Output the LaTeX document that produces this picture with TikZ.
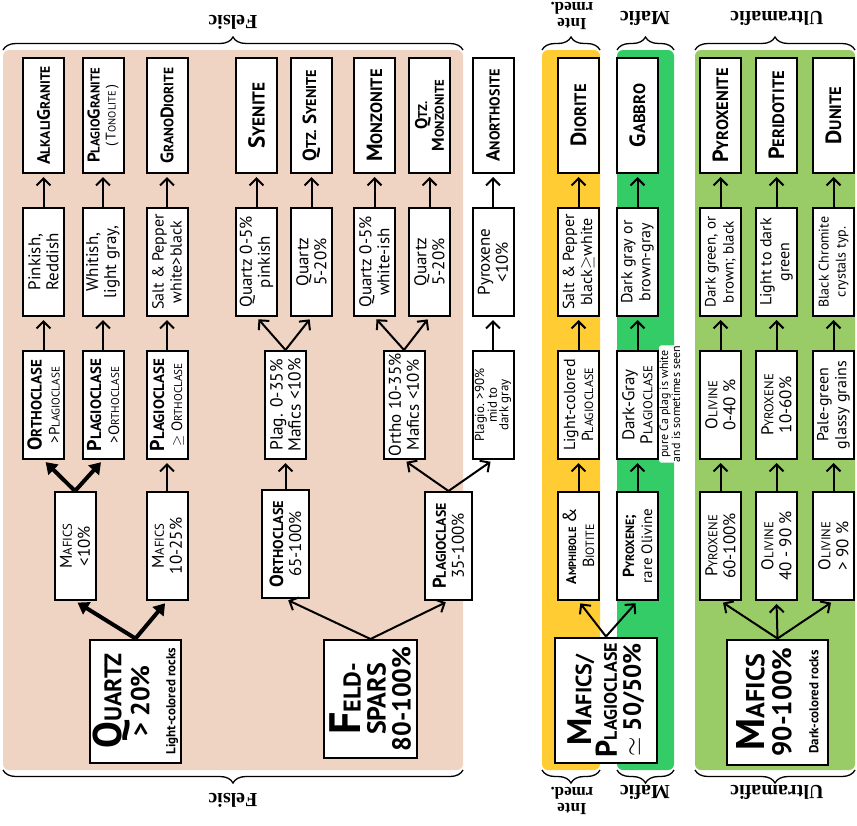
\documentclass[tikz,border=0pt]{standalone}
\usepackage{fontspec}
\usepackage{graphicx}
\setmainfont{PT Sans}
\newfontfamily\bracefont{Liberation Serif}
\usetikzlibrary{arrows.meta,decorations.pathreplacing}

\definecolor{felsicbg}{HTML}{EFD4C4}
\definecolor{intbg}{HTML}{FFCC33}
\definecolor{maficbg}{HTML}{33CC66}
\definecolor{ultrabg}{HTML}{99CC66}

% fake small caps: big initial, rest in smaller capitals
\newcommand\sce[2]{#1\scalebox{.75}{\MakeUppercase{#2}}}
\newcommand\fs[2]{\fontsize{#1}{#2}\selectfont}

\begin{document}
\begin{tikzpicture}[
  x=1pt, y=-1pt,
  box/.style={draw, line width=2pt, fill=white, rotate=90, align=center, inner sep=1pt},
  namebox/.style={box, minimum width=115pt, minimum height=41pt},
  infobox/.style={box, minimum width=108pt, minimum height=41pt, font=\fs{17}{18}},
  bigbox/.style={box, minimum width=123pt, minimum height=92pt},
  up/.style={-{Straight Barb[length=7pt,width=14pt]}, line width=2pt, shorten >=3pt},
  fat/.style={-{Triangle[length=11pt,width=14pt]}, line width=4pt, shorten >=3pt},
  bracelab/.style={rotate=180, font=\bracefont\bfseries\fs{20}{16}, align=center},
  curly/.style={decorate, decoration={brace, amplitude=13pt}, line width=1.3pt}
]
\useasboundingbox (0,0) rectangle (857,825);

% coloured bands
\fill[felsicbg, rounded corners=6pt] (3,50) rectangle (463,770);
\fill[intbg, rounded corners=6pt] (542,50) rectangle (600,770);
\fill[maficbg, rounded corners=6pt] (617,50) rectangle (674,770);
\fill[ultrabg, rounded corners=6pt] (695,50) rectangle (855,770);

% braces and their labels
\draw[curly] (3,50) -- (463,50);
\draw[curly] (542,50) -- (600,50);
\draw[curly] (617,50) -- (674,50);
\draw[curly] (695,50) -- (855,50);
\draw[curly] (463,770) -- (3,770);
\draw[curly] (600,770) -- (542,770);
\draw[curly] (674,770) -- (617,770);
\draw[curly] (855,770) -- (695,770);
\node[bracelab] (felsicT) at (233,22) {Felsic};
\node[bracelab, font=\bracefont\bfseries\fs{17}{16}] (intT) at (572,16) {Inte\\rmed.};
\node[bracelab] (maficT) at (645,18) {Mafic};
\node[bracelab] (ultraT) at (777,18) {Ultramafic};
\node[bracelab] (felsicB) at (233,800) {Felsic};
\node[bracelab, font=\bracefont\bfseries\fs{17}{16}] (intB) at (572,801) {Inte\\rmed.};
\node[bracelab] (maficB) at (645,792) {Mafic};
\node[bracelab] (ultraB) at (777,792) {Ultramafic};

% rock names
\node[namebox, font=\bfseries\fs{18}{18}] (alkali) at (43.5,115.5) {\sce{A}{lkali}\sce{G}{ranite}};
\node[namebox, font=\bfseries\fs{17}{16}] (plagiogr) at (103,115.5) {\sce{P}{lagio}\sce{G}{ranite}\\{\mdseries\fs{14}{13}(\,\sce{T}{onolite}\,)}};
\node[namebox, font=\bfseries\fs{18}{18}] (grano) at (167,115.5) {\sce{G}{rano}\sce{D}{iorite}};
\node[namebox, font=\bfseries\fs{23}{23}] (syen) at (256.5,115.5) {\sce{S}{yenite}};
\node[namebox, font=\bfseries\fs{19}{19}] (qsyen) at (311.5,115.5) {\sce{Q}{tz.} \sce{S}{yenite}};
\node[namebox, font=\bfseries\fs{22}{22}] (monz) at (374.5,115.5) {\sce{M}{onzonite}};
\node[namebox, font=\bfseries\fs{17}{15}] (qmonz) at (429.5,115.5) {\sce{Q}{tz.}\\\sce{M}{onzonite}};
\node[namebox, font=\bfseries\fs{19}{19}] (anor) at (493,115.5) {\sce{A}{northosite}};
\node[namebox, font=\bfseries\fs{22}{22}] (dior) at (578.5,115.5) {\sce{D}{iorite}};
\node[namebox, font=\bfseries\fs{22}{22}] (gabb) at (637.5,115.5) {\sce{G}{abbro}};
\node[namebox, font=\bfseries\fs{22}{22}] (pyrxt) at (720.5,115.5) {\sce{P}{yroxenite}};
\node[namebox, font=\bfseries\fs{22}{22}] (perid) at (776.5,115.5) {\sce{P}{eridotite}};
\node[namebox, font=\bfseries\fs{22}{22}] (dun) at (833.5,115.5) {\sce{D}{unite}};

% colour and texture
\node[infobox] (pink) at (43.5,262) {Pinkish,\\Reddish};
\node[infobox] (whitish) at (103,262) {Whitish,\\light gray,};
\node[infobox, font=\fs{16}{18}] (saltw) at (167,262) {Salt \& Pepper\\white>black};
\node[infobox] (qzpink) at (256.5,262) {Quartz 0-5\%\\pinkish};
\node[infobox] (qzsyen) at (311.5,262) {Quartz\\5-20\%};
\node[infobox] (qzwhite) at (374.5,262) {Quartz 0-5\%\\white-ish};
\node[infobox] (qzmonz) at (429.5,262) {Quartz\\5-20\%};
\node[infobox] (pyx10) at (493,262) {Pyroxene\\<10\%};
\node[infobox, font=\fs{16}{18}] (saltb) at (578.5,262) {Salt \& Pepper\\black$\geq$white};
\node[infobox, font=\fs{16}{18}] (darkgray) at (637.5,262) {Dark gray or\\brown-gray};
\node[infobox, font=\fs{15}{18}] (darkgreen) at (720.5,262) {Dark green, or\\brown; black};
\node[infobox, font=\fs{16}{18}] (lightgreen) at (776.5,262) {Light to dark\\green};
\node[infobox, font=\fs{14}{17}] (chromite) at (833.5,262) {Black Chromite\\crystals typ.};

% feldspar ratio
\node[infobox] (orthoP) at (43.5,405) {{\bfseries\fs{20}{18}\sce{O}{rthoclase}}\\{\fs{15}{15}>\sce{P}{lagioclase}}};
\node[infobox] (plagO) at (103,405) {{\bfseries\fs{20}{18}\sce{P}{lagioclase}}\\{\fs{15}{15}>\sce{O}{rthoclase}}};
\node[infobox] (plagGeO) at (167,405) {{\bfseries\fs{20}{18}\sce{P}{lagioclase}}\\{\fs{15}{15}$\geq$ \sce{O}{rthoclase}}};
\node[infobox, font=\fs{17.5}{18}] (plag035) at (285.5,405) {Plag. 0-35\%\\Mafics <10\%};
\node[infobox, font=\fs{17}{18}] (ortho1035) at (404,405) {Ortho 10-35\%\\Mafics <10\%};
\node[infobox, font=\fs{13}{11.5}] (plagio90) at (493,405) {Plagio. >90\%\\mid to\\dark gray};
\node[infobox, font=\fs{16}{18}] (lightplag) at (578.5,405) {Light-colored\\\sce{P}{lagioclase}};
\node[infobox, font=\fs{17}{18}] (darkplag) at (637.5,405) {Dark-Gray\\\sce{P}{lagioclase}};
\node[infobox, font=\fs{17}{18}] (oliv040) at (720.5,405) {\sce{O}{livine}\\0-40 \%};
\node[infobox, font=\fs{17}{18}] (pyx1060) at (776.5,405) {\sce{P}{yroxene}\\10-60\%};
\node[infobox, font=\fs{16}{18}] (palegreen) at (833.5,405) {Pale-green\\glassy grains};
\node[rotate=90, fill=white, rounded corners=2pt, inner sep=0.5pt, align=center, font=\fs{12}{10.5}] (caplag) at (670,404) {pure Ca plag is white\\and is sometimes seen};

% mafic content
\node[infobox, font=\fs{17}{18}] (maf10) at (75,546) {\sce{M}{afics}\\<10\%};
\node[infobox, font=\fs{17}{18}] (maf1025) at (167,546) {\sce{M}{afics}\\10-25\%};
\node[infobox, font=\fs{17}{18}, minimum height=47pt] (ortho65) at (285.5,544) {{\bfseries\fs{19}{18}\sce{O}{rthoclase}}\\65-100\%};
\node[infobox, font=\fs{17}{18}, minimum height=47pt] (plag35) at (448.5,546) {{\bfseries\fs{18.5}{18}\sce{P}{lagioclase}}\\35-100\%};
\node[infobox, font=\fs{16}{18}] (amph) at (578.5,546) {{\bfseries\fs{14}{14}\sce{A}{mphibole}} {\fs{19}{16}\&}\\\sce{B}{iotite}};
\node[infobox, font=\fs{15}{18}] (pyxol) at (637.5,546) {{\bfseries\fs{16}{14}\sce{P}{yroxene};}\\rare Olivine};
\node[infobox, font=\fs{17}{18}] (pyx60) at (720.5,546) {\sce{P}{yroxene}\\60-100\%};
\node[infobox, font=\fs{17}{18}] (oliv4090) at (776.5,546) {\sce{O}{livine}\\40 - 90 \%};
\node[infobox, font=\fs{17}{18}] (oliv90) at (833.5,546) {\sce{O}{livine}\\> 90 \%};

% main groups
\node[bigbox, minimum height=91pt, font=\bfseries\fs{26}{26}] (quartz) at (135.5,701) {{\fs{40}{30}Q\scalebox{.6}{UARTZ}}\\> 20\%\\{\fs{13}{13}Light-colored rocks}};
\node[bigbox, minimum width=118pt, minimum height=93pt, font=\bfseries\fs{26}{25}] (feldspars) at (370.5,699) {{\fs{44}{28}F\scalebox{.55}{ELD-}}\\SPARS\\80-100\%};
\node[bigbox, minimum width=125pt, minimum height=102pt, font=\bfseries\fs{25}{24}] (mafplag) at (606,700) {{\fs{34}{28}M\scalebox{.65}{AFICS/}}\\{\fs{30}{26}P\scalebox{.6}{LAGIOCLASE}}\\$\simeq$ 50/50\%};
\node[bigbox, minimum width=125pt, minimum height=101pt, font=\bfseries\fs{27}{27}] (mafics) at (777.5,702) {{\fs{40}{30}M\scalebox{.65}{AFICS}}\\90-100\%\\{\fs{13}{13}Dark-colored rocks}};

% arrows
\foreach \lo/\hi in {pink/alkali, whitish/plagiogr, saltw/grano, qzpink/syen, qzsyen/qsyen,
  qzwhite/monz, qzmonz/qmonz, pyx10/anor, saltb/dior, darkgray/gabb, darkgreen/pyrxt,
  lightgreen/perid, chromite/dun,
  orthoP/pink, plagO/whitish, plagGeO/saltw, plag035/qzpink, plag035/qzsyen,
  ortho1035/qzwhite, ortho1035/qzmonz, plagio90/pyx10, lightplag/saltb, darkplag/darkgray,
  oliv040/darkgreen, pyx1060/lightgreen, palegreen/chromite,
  maf1025/plagGeO, ortho65/plag035, plag35/ortho1035, plag35/plagio90, amph/lightplag,
  pyxol/darkplag, pyx60/oliv040, oliv4090/pyx1060, oliv90/palegreen,
  feldspars/ortho65, feldspars/plag35, mafplag/amph, mafplag/pyxol,
  mafics/pyx60, mafics/oliv4090, mafics/oliv90}
  \draw[up] (\lo.east) -- (\hi.west);
\draw[fat] (maf10.east) -- (orthoP.west);
\draw[fat] (maf10.east) -- (plagO.west);
\draw[fat] (quartz.east) -- (maf10.west);
\draw[fat] (quartz.east) -- (maf1025.west);
\end{tikzpicture}
\end{document}
